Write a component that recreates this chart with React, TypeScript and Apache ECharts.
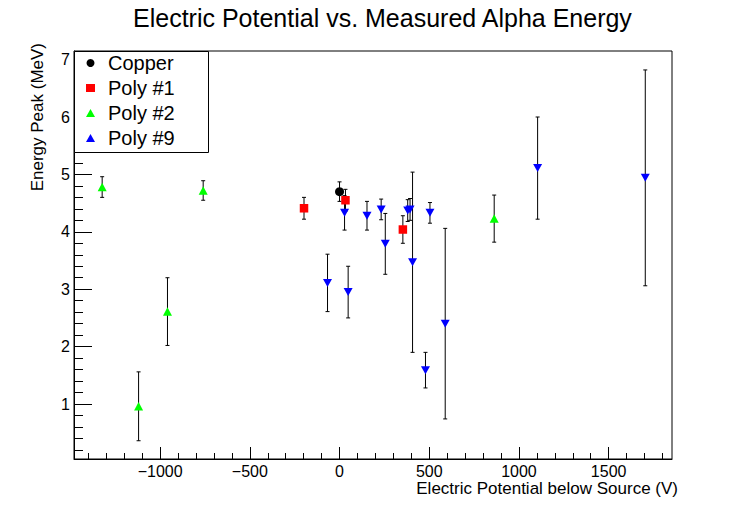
import React, { useEffect, useRef } from "react";
import * as echarts from "echarts";

// ---- data ----
const copperPotential = [0];
const copperEnergy = [4.7];
const copperError = [0.17];

const poly1Potential = [-198, 33, 353];
const poly1Energy = [4.41, 4.55, 4.04];
const poly1Error = [0.19, 0.19, 0.24];

const poly2Potential = [-1323, -1120, -959, -760, 862];
const poly2Energy = [4.78, 0.96, 2.61, 4.72, 4.23];
const poly2Error = [0.18, 0.6, 0.59, 0.17, 0.41];

const poly9Potential = [-67, 28, 48, 153, 232, 255, 380, 393, 407, 479, 504, 589, 1104, 1704];
const poly9Energy = [3.11, 4.33, 2.95, 4.28, 4.39, 3.79, 4.37, 4.39, 3.47, 1.59, 4.33, 2.4, 5.11, 4.94];
const poly9Error = [0.5, 0.3, 0.45, 0.25, 0.18, 0.53, 0.19, 0.19, 1.57, 0.31, 0.18, 1.66, 0.89, 1.88];

const xMajorTicks = [-1000, -500, 0, 500, 1000, 1500];
const yMajorTicks = [1, 2, 3, 4, 5, 6, 7];

const xMinorTicks: number[] = [];
for (let v = -1400; v <= 1800; v += 100) if (v % 500 !== 0) xMinorTicks.push(v);
const yMinorTicks: number[] = [];
for (let i = 1; i <= 35; i++) if (i % 5 !== 0) yMinorTicks.push(Math.round(i * 2) / 10);

const X_MIN = -1480;
const X_MAX = 1853;
const Y_MIN = 0.042;
const Y_MAX = 7.15;

const FONT = "'Liberation Sans', Arial, Helvetica, sans-serif";

function rows(xs: number[], ys: number[], es: number[]) {
  return xs.map((x, i) => [x, ys[i], es[i]]);
}

function errorSeries(data: number[][]) {
  return {
    type: "custom",
    xAxisIndex: 0,
    yAxisIndex: 0,
    z: 1,
    silent: true,
    data,
    encode: { x: 0, y: 1 },
    renderItem: (_params: any, api: any) => {
      const x = api.value(0);
      const y = api.value(1);
      const e = api.value(2);
      const top = api.coord([x, y + e]);
      const bot = api.coord([x, y - e]);
      const hw = 2;
      const st = { stroke: "#000", lineWidth: 1 };
      return {
        type: "group",
        children: [
          { type: "line", shape: { x1: top[0], y1: top[1], x2: bot[0], y2: bot[1] }, style: st },
          { type: "line", shape: { x1: top[0] - hw, y1: top[1], x2: top[0] + hw, y2: top[1] }, style: st },
          { type: "line", shape: { x1: bot[0] - hw, y1: bot[1], x2: bot[0] + hw, y2: bot[1] }, style: st },
        ],
      };
    },
  };
}

const minus = (v: any) => String(v).replace("-", "\u2212");

export default function App() {
  const ref = useRef<HTMLDivElement>(null);
  useEffect(() => {
    if (!ref.current) return;
    const chart = echarts.init(ref.current, undefined, { renderer: "svg" });
    const copper = rows(copperPotential, copperEnergy, copperError);
    const p1 = rows(poly1Potential, poly1Energy, poly1Error);
    const p2 = rows(poly2Potential, poly2Energy, poly2Error);
    const p9 = rows(poly9Potential, poly9Energy, poly9Error);
    chart.setOption({
      animation: false,
      textStyle: { fontFamily: FONT },
      title: {
        text: "Electric Potential vs. Measured Alpha Energy",
        left: 133,
        top: 5,
        padding: 0,
        textStyle: { fontSize: 25, fontWeight: "normal", color: "#000", fontFamily: FONT },
      },
      grid: {
        left: 74,
        top: 51,
        width: 598,
        height: 408,
        show: true,
        borderColor: "#000",
        borderWidth: 1,
        backgroundColor: "transparent",
      },
      legend: {
        orient: "vertical",
        left: 86,
        top: 53,
        padding: 0,
        itemGap: 5,
        itemWidth: 9,
        itemHeight: 8,
        selectedMode: false,
        data: ["Copper", "Poly #1", "Poly #2", "Poly #9"],
        textStyle: { fontSize: 20, lineHeight: 20, color: "#000", fontFamily: FONT, padding: [0, 0, 0, 8] },
      },
      xAxis: [
        {
          type: "value",
          min: X_MIN,
          max: X_MAX,
          axisLine: { show: true, onZero: false, lineStyle: { color: "#000", width: 1 } },
          axisTick: { show: true, inside: true, length: 12, customValues: xMajorTicks, lineStyle: { color: "#000" } },
          axisLabel: {
            customValues: xMajorTicks,
            formatter: minus,
            fontSize: 16,
            lineHeight: 13,
            color: "#000",
            margin: 6,
            fontFamily: FONT,
          },
          splitLine: { show: false },
        },
        {
          type: "value",
          min: X_MIN,
          max: X_MAX,
          position: "bottom",
          axisLine: { show: false, onZero: false },
          axisTick: { show: true, inside: true, length: 6, customValues: xMinorTicks, lineStyle: { color: "#000" } },
          axisLabel: { show: false },
          splitLine: { show: false },
        },
      ],
      yAxis: [
        {
          type: "value",
          min: Y_MIN,
          max: Y_MAX,
          axisLine: { show: true, onZero: false, lineStyle: { color: "#000", width: 1 } },
          axisTick: { show: true, inside: true, length: 18, customValues: yMajorTicks, lineStyle: { color: "#000" } },
          axisLabel: {
            customValues: yMajorTicks,
            fontSize: 16,
            color: "#000",
            margin: 4,
            fontFamily: FONT,
          },
          splitLine: { show: false },
        },
        {
          type: "value",
          min: Y_MIN,
          max: Y_MAX,
          position: "left",
          axisLine: { show: false, onZero: false },
          axisTick: { show: true, inside: true, length: 9, customValues: yMinorTicks, lineStyle: { color: "#000" } },
          axisLabel: { show: false },
          splitLine: { show: false },
        },
      ],
      graphic: [
        {
          type: "rect",
          z: 3,
          shape: { x: 74.5, y: 51.5, width: 134, height: 101 },
          style: { fill: "#fff", stroke: "#000", lineWidth: 1 },
        },
        {
          type: "text",
          z: 5,
          x: 678,
          y: 488.5,
          style: {
            text: "Electric Potential below Source (V)",
            fontSize: 17,
            lineHeight: 14,
            fontFamily: FONT,
            fill: "#000",
            align: "right",
            verticalAlign: "middle",
          },
        },
        {
          type: "text",
          z: 5,
          x: 37,
          y: 43,
          rotation: Math.PI / 2,
          style: {
            text: "Energy Peak (MeV)",
            fontSize: 17,
            fontFamily: FONT,
            fill: "#000",
            align: "right",
            verticalAlign: "middle",
          },
        },
      ],
      series: [
        errorSeries(copper),
        errorSeries(p1),
        errorSeries(p2),
        errorSeries(p9),
        {
          name: "Copper",
          type: "scatter",
          symbol: "circle",
          symbolSize: 9,
          itemStyle: { color: "#000", opacity: 1 },
          data: copper,
          z: 2,
        },
        {
          name: "Poly #1",
          type: "scatter",
          symbol: "rect",
          symbolSize: 8.5,
          itemStyle: { color: "#ff0000", opacity: 1 },
          data: p1,
          z: 2,
        },
        {
          name: "Poly #2",
          type: "scatter",
          symbol: "triangle",
          symbolSize: [9, 8.5],
          itemStyle: { color: "#00ff00", opacity: 1 },
          data: p2,
          z: 2,
        },
        {
          name: "Poly #9",
          type: "scatter",
          symbol: "triangle",
          symbolRotate: 180,
          symbolSize: [9, 8],
          itemStyle: { color: "#0000ff", opacity: 1 },
          data: p9,
          z: 2,
        },
      ],
    });
    return () => chart.dispose();
  }, []);
  return (
    <div
      ref={ref}
      style={{ position: "fixed", left: 0, top: 0, width: 747, height: 510, background: "#fff" }}
    />
  );
}
